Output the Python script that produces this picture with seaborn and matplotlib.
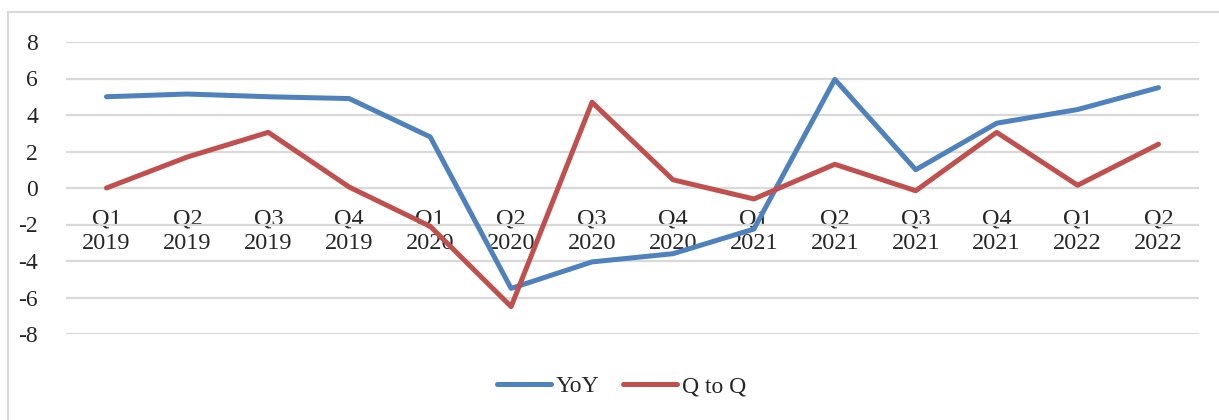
import matplotlib
matplotlib.use("Agg")
import matplotlib.pyplot as plt
import seaborn as sns
import pandas as pd
from matplotlib.patches import Rectangle

quarters = ["Q1\n2019", "Q2\n2019", "Q3\n2019", "Q4\n2019",
            "Q1\n2020", "Q2\n2020", "Q3\n2020", "Q4\n2020",
            "Q1\n2021", "Q2\n2021", "Q3\n2021", "Q4\n2021",
            "Q1\n2022", "Q2\n2022"]
yoy = [5.0, 5.15, 5.0, 4.9, 2.8, -5.5, -4.05, -3.6, -2.25, 5.95, 1.0, 3.55, 4.3, 5.5]
qtoq = [0.0, 1.7, 3.05, 0.05, -2.1, -6.5, 4.7, 0.45, -0.6, 1.3, -0.15, 3.05, 0.15, 2.4]
series_names = ["YoY", "Q to Q"]
colors = ["#4f81bd", "#c0504d"]

df = pd.DataFrame({
    "pos": list(range(len(quarters))) * 2,
    "value": yoy + qtoq,
    "series": [series_names[0]] * len(quarters) + [series_names[1]] * len(quarters),
})

sns.set_style("white")
plt.rcParams["font.family"] = ["Liberation Serif", "DejaVu Serif"]
plt.rcParams["axes.unicode_minus"] = False

fig = plt.figure(figsize=(12.19, 4.2), dpi=100)
ax = fig.add_axes([66 / 1219, 1 - 334 / 420, (1199 - 66) / 1219, 292 / 420])

# light frame around the whole chart, open at the bottom/right like the source
fig.patches.append(Rectangle((8 / 1219, -0.05), 1.2, 1 - 12 / 420 + 0.05,
                             transform=fig.transFigure, fill=False,
                             edgecolor="#d9d9d9", linewidth=1.5))

sns.lineplot(data=df, x="pos", y="value", hue="series", palette=colors,
             linewidth=3.6, ax=ax, legend=False, zorder=3)

ax.set_xlim(-0.5, len(quarters) - 0.5)
ax.set_ylim(-8, 8)
ax.set_yticks(range(-8, 9, 2))
ax.yaxis.grid(True, color="#d9d9d9", linewidth=1.6)
ax.set_axisbelow(True)
for s in ["top", "right", "left"]:
    ax.spines[s].set_visible(False)
ax.spines["bottom"].set_position(("data", 0))
ax.spines["bottom"].set_visible(False)

ax.set_xticks(range(len(quarters)))
ax.set_xticklabels(quarters, fontsize=17.5, linespacing=1.2)
ax.tick_params(axis="x", length=0, pad=15)
ax.tick_params(axis="y", length=0, pad=20, labelsize=17)
ax.set_xlabel("")
ax.set_ylabel("")

handles = [plt.Line2D([], [], color=c, linewidth=3.6) for c in colors]
fig.legend(handles, series_names, loc="center", bbox_to_anchor=(0.51, 0.08),
           ncol=2, frameon=False, fontsize=17, handlelength=2.3,
           handletextpad=0.2, columnspacing=1.0)

fig.savefig("out.png", dpi=100)
